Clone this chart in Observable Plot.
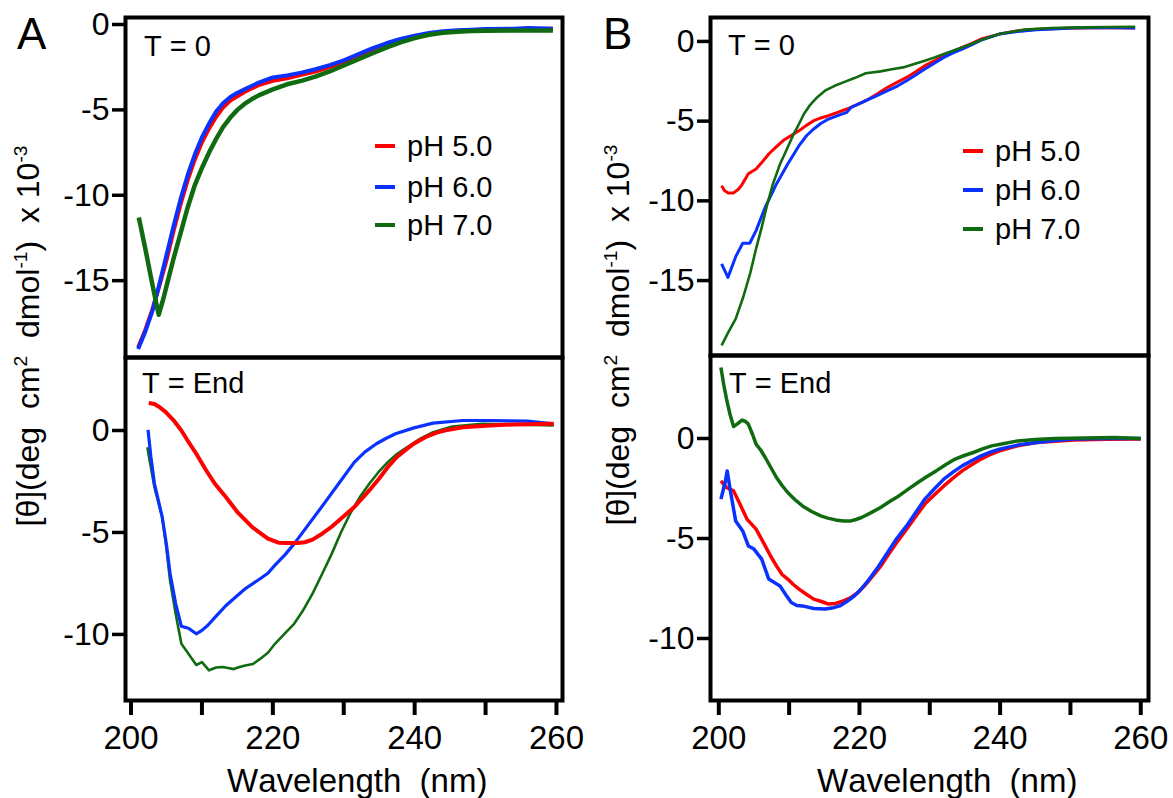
<!DOCTYPE html>
<html><head><meta charset="utf-8">
<script src="https://cdn.jsdelivr.net/npm/d3@7"></script>
<script src="https://cdn.jsdelivr.net/npm/@observablehq/plot@0.6"></script>
<style>
body{margin:0;background:#fff;}
#wrap{position:relative;width:1173px;height:798px;overflow:hidden;font-family:"Liberation Sans",Arial,sans-serif;color:#000;font-kerning:none;}
#wrap svg{position:absolute;overflow:visible;background:transparent;}
.lbl{position:absolute;white-space:pre;line-height:1;}
.sw{position:absolute;height:4px;width:20px;}
.ylab{position:absolute;white-space:pre;line-height:1;font-size:32px;transform:translate(-50%,-50%) rotate(-90deg);}
.ylab sup{font-size:0.6em;vertical-align:0.62em;line-height:0;}
</style></head><body><div id="wrap"></div>
<script>
// ---- data ----
const phLabels = ["pH 5.0", "pH 6.0", "pH 7.0"];
const phColors = ["#ff0000", "#0a32ff", "#106b10"];
const xTicks = [200, 210, 220, 230, 240, 250, 260];
const yTicksTop = [0, -5, -10, -15];
const yTicksBottom = [0, -5, -10];

const A_T0_pH5 = [[201,-18.9],[202,-17.9],[203,-16.7],[204,-15.3],[205,-13.8],[206,-12.1],[207,-10.5],[208,-9.1],[209,-7.9],[210,-6.9],[211,-6.1],[212,-5.4],[213,-4.85],[214,-4.45],[215,-4.2],[216,-3.95],[217,-3.75],[218,-3.55],[220,-3.3],[222,-3.15],[224,-2.95],[226,-2.75],[228,-2.5],[230,-2.2],[232,-1.85],[234,-1.5],[236,-1.2],[238,-0.9],[240,-0.7],[242,-0.55],[244,-0.45],[246,-0.38],[248,-0.33],[250,-0.3],[254,-0.27],[259.5,-0.25]];
const A_T0_pH6 = [[201,-19.0],[202,-18.0],[203,-16.8],[204,-15.2],[205,-13.5],[206,-11.8],[207,-10.2],[208,-8.8],[209,-7.6],[210,-6.6],[211,-5.8],[212,-5.1],[213,-4.6],[214,-4.25],[215,-4.0],[216,-3.8],[217,-3.6],[218,-3.4],[220,-3.1],[222,-2.98],[224,-2.82],[226,-2.62],[228,-2.38],[230,-2.1],[232,-1.75],[234,-1.4],[236,-1.1],[238,-0.85],[240,-0.65],[242,-0.5],[244,-0.4],[246,-0.33],[248,-0.3],[250,-0.27],[254,-0.25],[256,-0.2],[259.5,-0.25]];
const A_T0_pH7 = [[201.1,-11.3],[202,-13.1],[203,-15.2],[203.9,-17.0],[204.6,-16.0],[205.2,-15.0],[206,-13.7],[207,-12.2],[208,-10.7],[209,-9.4],[210,-8.4],[211,-7.5],[212,-6.7],[213,-6.0],[214,-5.45],[215,-5.0],[216,-4.65],[217,-4.38],[218,-4.15],[220,-3.8],[222,-3.5],[224,-3.3],[226,-3.05],[228,-2.75],[230,-2.4],[232,-2.05],[234,-1.7],[236,-1.35],[238,-1.05],[240,-0.8],[242,-0.6],[244,-0.48],[246,-0.42],[248,-0.38],[250,-0.36],[254,-0.35],[259.5,-0.35]];

const A_End_pH5 = [[202.5,1.35],[203.3,1.3],[204,1.15],[204.9,0.9],[206,0.5],[207.1,0],[208,-0.5],[209.2,-1.14],[210.5,-1.9],[211.8,-2.6],[213.4,-3.27],[215,-4.0],[217.1,-4.74],[219.3,-5.3],[220.8,-5.5],[222,-5.52],[223.5,-5.52],[224.5,-5.48],[225.6,-5.35],[227,-5.05],[228.3,-4.72],[230,-4.2],[231.5,-3.75],[233.6,-2.94],[235,-2.35],[236.2,-1.8],[237.5,-1.3],[238.9,-0.9],[240,-0.62],[241.5,-0.33],[243,-0.12],[244.2,0],[246.8,0.16],[250.6,0.25],[254,0.3],[259.6,0.33]];
const A_End_pH6 = [[202.4,0.03],[202.8,-1.3],[203.3,-2.6],[204.4,-4.25],[205,-5.6],[205.5,-7.0],[206.3,-8.5],[207.1,-9.6],[208.1,-9.7],[209.2,-9.97],[210,-9.8],[210.8,-9.56],[212,-9.1],[213.4,-8.58],[214.8,-8.15],[216.1,-7.76],[218.2,-7.27],[219.3,-7.0],[220.3,-6.6],[221.7,-6.1],[223,-5.56],[225.1,-4.58],[227.2,-3.6],[229.3,-2.6],[231.5,-1.55],[233,-1.05],[234.6,-0.65],[236,-0.38],[237.3,-0.16],[239.9,0.13],[242.6,0.36],[246.8,0.49],[250.6,0.49],[255.9,0.46],[259.6,0.33]];
const A_End_pH7 = [[202.3,-0.82],[203.3,-2.78],[204.4,-4.25],[205,-5.8],[205.5,-7.35],[206.3,-9.0],[207.1,-10.46],[208.2,-11.0],[209.2,-11.5],[210,-11.36],[211,-11.76],[212,-11.62],[212.9,-11.6],[213.7,-11.65],[214.5,-11.7],[215.3,-11.6],[216.1,-11.52],[217.2,-11.45],[218.2,-11.2],[219.3,-10.9],[220.3,-10.46],[221.7,-9.95],[223,-9.48],[224.3,-8.8],[225.6,-8.0],[227,-7.0],[228.3,-6.05],[229.6,-5.0],[230.9,-4.08],[232.2,-3.3],[233.6,-2.61],[235,-2.0],[236.2,-1.55],[237.5,-1.15],[238.9,-0.82],[240.8,-0.4],[242.6,-0.08],[245.3,0.2],[249.5,0.33],[254,0.3],[259.6,0.25]];

const B_T0_pH5 = [[200.4,-9.05],[200.8,-9.35],[201.3,-9.5],[202.1,-9.5],[202.7,-9.3],[203.2,-9.05],[204.2,-8.3],[205.3,-8.0],[206.2,-7.55],[207.1,-7.06],[208.2,-6.6],[209.2,-6.2],[210.3,-5.9],[211.4,-5.6],[212.5,-5.25],[213.5,-4.97],[214.5,-4.8],[215.6,-4.66],[216.9,-4.45],[218.2,-4.24],[219.5,-4.0],[220.9,-3.72],[222.5,-3.3],[224,-2.88],[225.4,-2.55],[226.7,-2.26],[228,-1.9],[229.3,-1.52],[230.7,-1.2],[232,-0.9],[233.3,-0.62],[234.6,-0.38],[236,-0.12],[237.3,0.15],[239.9,0.46],[242.5,0.67],[245.2,0.77],[250.5,0.84],[255,0.86],[259.2,0.84]];
const B_T0_pH6 = [[200.4,-13.95],[201.3,-14.8],[202.4,-13.5],[203.4,-12.66],[204.4,-12.66],[205.3,-11.87],[206.6,-10.4],[208.2,-8.94],[209.8,-7.69],[211.4,-6.54],[212.5,-5.9],[213.5,-5.49],[214.5,-5.15],[215.6,-4.87],[216.9,-4.65],[218.2,-4.45],[218.8,-4.14],[220,-3.9],[220.9,-3.72],[222.5,-3.4],[224,-3.09],[225.4,-2.8],[226.7,-2.47],[228,-2.1],[229.3,-1.73],[230.7,-1.35],[232,-1.0],[233.3,-0.72],[234.6,-0.48],[236,-0.2],[237.3,0.08],[239.9,0.46],[242.5,0.62],[245.2,0.73],[250.5,0.84],[254.7,0.88],[259.2,0.84]];
const B_T0_pH7 = [[200.4,-19.07],[201.4,-18.2],[202.4,-17.4],[203.5,-16.0],[204.5,-14.48],[205.3,-13.0],[206.1,-11.66],[206.9,-10.2],[207.7,-8.94],[208.7,-7.7],[209.8,-6.64],[210.6,-5.85],[211.4,-5.18],[212.1,-4.55],[212.9,-4.03],[214,-3.5],[215.1,-3.09],[216.4,-2.8],[217.7,-2.57],[219.3,-2.3],[220.9,-2.0],[223,-1.88],[224.6,-1.75],[226.2,-1.63],[227.8,-1.42],[229.3,-1.21],[230.7,-1.0],[232,-0.79],[233.3,-0.58],[234.6,-0.38],[236,-0.15],[237.3,0.08],[239.9,0.46],[243.5,0.74],[247.3,0.84],[252,0.88],[259.2,0.92]];

const B_End_pH5 = [[200.3,-2.12],[201.1,-2.45],[202.1,-2.62],[202.9,-3.2],[204,-4.03],[205.3,-4.53],[206.6,-5.37],[207.4,-5.9],[208.2,-6.37],[209,-6.8],[209.8,-7.03],[210.6,-7.3],[211.4,-7.53],[212.5,-7.8],[213.5,-8.03],[214.6,-8.15],[215.6,-8.28],[216.6,-8.25],[217.7,-8.12],[218.8,-7.95],[219.8,-7.7],[220.9,-7.3],[221.9,-6.87],[223,-6.4],[224,-5.87],[225.3,-5.2],[226.7,-4.53],[228,-3.9],[229.3,-3.28],[230.7,-2.8],[232,-2.37],[233.3,-1.98],[234.6,-1.62],[236,-1.3],[237.3,-1.03],[238.6,-0.8],[239.9,-0.62],[242.5,-0.36],[245.2,-0.2],[250.5,-0.07],[255,-0.04],[260,-0.03]];
const B_End_pH6 = [[200.3,-3.03],[200.9,-2.2],[201.2,-1.62],[201.6,-2.53],[202.4,-4.12],[203.4,-4.62],[204.2,-5.37],[205,-5.53],[206.1,-6.03],[207.1,-7.03],[208.7,-7.37],[209.5,-7.8],[210.3,-8.2],[211.1,-8.35],[211.9,-8.37],[213.5,-8.5],[215.1,-8.53],[216.1,-8.48],[217.2,-8.37],[218.2,-8.15],[219.3,-7.87],[220.3,-7.5],[221.4,-7.03],[222.7,-6.4],[224,-5.7],[225.3,-5.0],[226.7,-4.37],[228,-3.7],[229.3,-3.03],[230.7,-2.5],[232,-2.03],[233.3,-1.68],[234.6,-1.37],[236,-1.1],[237.3,-0.87],[238.6,-0.68],[239.9,-0.53],[242.5,-0.33],[245.2,-0.2],[247.8,-0.1],[250.5,-0.03],[255,0],[260,0]];
const B_End_pH7 = [[200.3,3.55],[200.7,2.7],[201.1,1.97],[201.6,1.2],[202.1,0.6],[202.6,0.72],[203.3,0.92],[203.8,0.85],[204.2,0.72],[204.8,0.2],[205.3,-0.28],[206,-0.6],[206.6,-0.95],[207.4,-1.45],[208.2,-1.95],[209,-2.35],[209.8,-2.7],[210.8,-3.05],[211.9,-3.37],[213.2,-3.65],[214.5,-3.87],[215.5,-3.98],[216.6,-4.07],[217.7,-4.12],[218.8,-4.12],[219.5,-4.05],[220.3,-3.95],[221.6,-3.72],[223,-3.45],[224.3,-3.15],[225.6,-2.87],[227,-2.52],[228.3,-2.2],[229.6,-1.9],[230.9,-1.62],[232.3,-1.3],[233.6,-1.03],[234.9,-0.85],[236.2,-0.7],[237.5,-0.52],[238.8,-0.37],[240.6,-0.25],[242.5,-0.12],[245,-0.05],[247.8,0],[252,0.03],[256.3,0.05],[260,0]];

// ---- layout helpers ----
const wrap = document.getElementById("wrap");
const FONT = '"Liberation Sans", Arial, sans-serif';

function panel({series, order, widths, xDomain, yDomain, yTicks, showX, left, top, width, height, ml, mr, mt, mb}) {
  const marks = [];
  for (const i of order) {
    marks.push(Plot.line(series[i], {x: d => d[0], y: d => d[1], stroke: phColors[i], strokeWidth: widths[i], strokeLinejoin: "round", strokeLinecap: "butt"}));
  }
  marks.push(Plot.frame({stroke: "black", strokeWidth: 4}));
  marks.push(Plot.axisY({ticks: yTicks, tickSize: 13, tickPadding: 3, strokeWidth: 3.5, fontSize: 32, tickFormat: d => String(d), label: null}));
  if (showX) {
    marks.push(Plot.axisX({ticks: xTicks, tickSize: 15, tickPadding: 10, strokeWidth: 4, fontSize: 33, tickFormat: d => (d % 20 === 0 ? String(d) : ""), label: null}));
  }
  const svg = Plot.plot({
    width, height, marginLeft: ml, marginRight: mr, marginTop: mt, marginBottom: mb,
    x: {domain: xDomain, axis: showX ? undefined : null},
    y: {domain: yDomain},
    style: {fontFamily: FONT, fontSize: "32px", background: "transparent", color: "black", overflow: "visible"},
    marks
  });
  svg.style.left = left + "px";
  svg.style.top = top + "px";
  svg.style.position = "absolute";
  svg.style.maxWidth = "none";
  wrap.appendChild(svg);
}

function label(text, left, top, size) {
  const d = document.createElement("div");
  d.className = "lbl";
  d.textContent = text;
  d.style.left = left + "px";
  d.style.top = top + "px";
  d.style.fontSize = size + "px";
  wrap.appendChild(d);
}

function legend(x, ys, tx) {
  phLabels.forEach((t, i) => {
    const s = document.createElement("div");
    s.className = "sw";
    s.style.left = x + "px";
    s.style.top = (ys[i] - 2) + "px";
    s.style.background = phColors[i];
    wrap.appendChild(s);
    label(t, tx, ys[i] - 14.5, 29);
  });
}

function ylab(cx, cy) {
  const d = document.createElement("div");
  d.className = "ylab";
  d.innerHTML = "[θ](deg&nbsp;&nbsp;cm<sup>2</sup>&nbsp;&nbsp;dmol<sup>-1</sup>)&nbsp;&nbsp;x 10<sup>-3</sup>";
  d.style.left = cx + "px";
  d.style.top = cy + "px";
  wrap.appendChild(d);
}

// ---- Panel A ----
panel({series: [A_T0_pH5, A_T0_pH6, A_T0_pH7], order: [0, 1, 2], widths: [4, 4, 4.5],
  xDomain: [199.22, 260.85], yDomain: [-19.5, 0.41], yTicks: yTicksTop, showX: false,
  left: 0, top: 0, width: 580, height: 380, ml: 125, mr: 18, mt: 17, mb: 23});
panel({series: [A_End_pH5, A_End_pH6, A_End_pH7], order: [2, 1, 0], widths: [4, 3.2, 2.6],
  xDomain: [199.22, 260.85], yDomain: [-13.24, 3.58], yTicks: yTicksBottom, showX: true,
  left: 0, top: 330, width: 580, height: 468, ml: 125, mr: 18, mt: 27, mb: 98});

// ---- Panel B ----
panel({series: [B_T0_pH5, B_T0_pH6, B_T0_pH7], order: [0, 1, 2], widths: [3, 3, 2.6],
  xDomain: [198.82, 261.1], yDomain: [-19.7, 1.5], yTicks: yTicksTop, showX: false,
  left: 590, top: 0, width: 583, height: 380, ml: 120, mr: 25, mt: 17, mb: 25});
panel({series: [B_End_pH5, B_End_pH6, B_End_pH7], order: [0, 1, 2], widths: [3.5, 3.5, 3.5],
  xDomain: [198.82, 261.1], yDomain: [-13.1, 4.15], yTicks: yTicksBottom, showX: true,
  left: 590, top: 330, width: 583, height: 468, ml: 120, mr: 25, mt: 25, mb: 98});

// ---- text ----
label("A", 17, 12, 44);
label("B", 603, 12, 44);
label("T = 0", 144, 32, 29);
label("T = End", 142, 369, 29);
label("T = 0", 728, 31, 29);
label("T = End", 729, 369, 29);
legend(375, [146, 187, 225], 407);
legend(963, [151, 190, 229], 995);
ylab(28, 336);
ylab(618, 335);
label("Wavelength  (nm)", 227, 764, 33);
label("Wavelength  (nm)", 817, 764, 33);
</script></body></html>
